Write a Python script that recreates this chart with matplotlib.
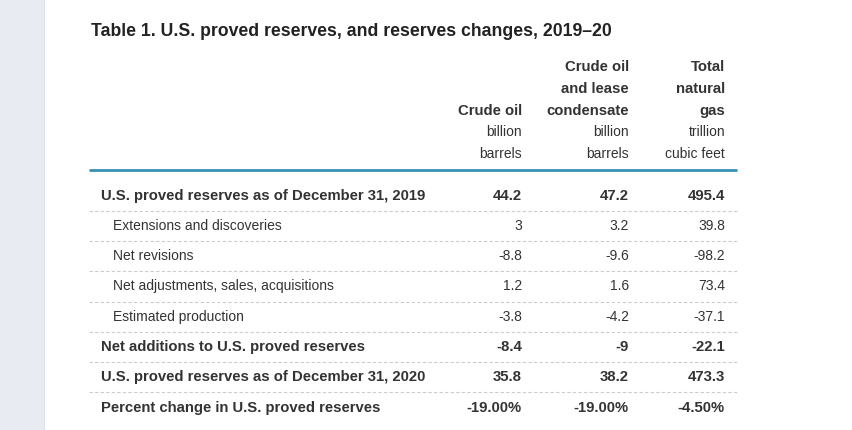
import matplotlib.pyplot as plt
from matplotlib import font_manager

# table content
title = 'Table 1. U.S. proved reserves, and reserves changes, 2019\u201320'
col_heads = [['Crude oil'], ['Crude oil', 'and lease', 'condensate'], ['Total', 'natural', 'gas']]
col_units = [['billion', 'barrels'], ['billion', 'barrels'], ['trillion', 'cubic feet']]
row_labels = ['U.S. proved reserves as of December 31, 2019',
              'Extensions and discoveries',
              'Net revisions',
              'Net adjustments, sales, acquisitions',
              'Estimated production',
              'Net additions to U.S. proved reserves',
              'U.S. proved reserves as of December 31, 2020',
              'Percent change in U.S. proved reserves']
row_bold = [True, False, False, False, False, True, True, True]
crude_oil = ['44.2', '3', '-8.8', '1.2', '-3.8', '-8.4', '35.8', '-19.00%']
lease_cond = ['47.2', '3.2', '-9.6', '1.6', '-4.2', '-9', '38.2', '-19.00%']
nat_gas = ['495.4', '39.8', '-98.2', '73.4', '-37.1', '-22.1', '473.3', '-4.50%']

names = {f.name for f in font_manager.fontManager.ttflist}
title_font = 'Liberation Sans Narrow' if 'Liberation Sans Narrow' in names else 'Liberation Sans'
body = 'Liberation Sans'
ink = '#333333'
fs_norm = 10
fs_bold = 10.7


def style(bold):
    return dict(family=body, color=ink, va='center',
                fontsize=fs_bold if bold else fs_norm,
                fontweight='bold' if bold else 'normal')


fig = plt.figure(figsize=(8.53, 4.31), dpi=100)
ax = fig.add_axes([0, 0, 1, 1])
ax.set_xlim(0, 853)
ax.set_ylim(431, 0)
ax.axis('off')

# grey strip on the left
ax.axvspan(0, 44, color='#e9ebf2', lw=0)
ax.axvline(44, color='#e1e4ec', lw=0.8)

ax.text(91, 31, title, fontsize=12.7 if title_font == body else 13.5,
        fontweight='bold', family=title_font, color='#222222', va='center', ha='left')

col_x = [522, 629, 725]
head_y = [67, 89, 111, 132, 154]
for x, heads, units in zip(col_x, col_heads, col_units):
    lines = heads + units
    ys = head_y[len(head_y) - len(lines):]
    for i, (y, t) in enumerate(zip(ys, lines)):
        ax.text(x, y, t, ha='right', **style(i < len(heads)))

ax.plot([89, 737], [171, 171], color='#3a8fb7', lw=2, solid_capstyle='butt')

row_y = [196, 226, 256, 286, 317, 347, 377, 408]
for i, (y, lab, b) in enumerate(zip(row_y, row_labels, row_bold)):
    ax.text(101 if b else 113, y, lab, ha='left', **style(b))
    for x, col in zip(col_x, [crude_oil, lease_cond, nat_gas]):
        ax.text(x, y, col[i], ha='right', **style(b))
    if i < len(row_y) - 1:
        sep = (y + row_y[i + 1]) / 2 + 1
        ax.plot([89, 737], [sep, sep], color='#cccccc', lw=0.8, ls=(0, (3, 2)))

fig.savefig('out.png', dpi=100, facecolor='white')
